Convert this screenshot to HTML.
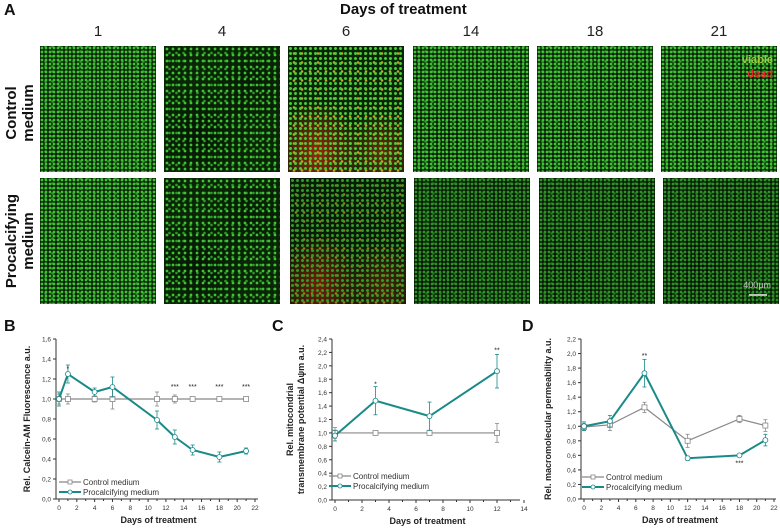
<!DOCTYPE html>
<html><head><meta charset="utf-8"><style>
body{margin:0;background:#fff;width:780px;height:528px;overflow:hidden;position:relative;font-family:"Liberation Sans",sans-serif}
.lbl{position:absolute;font-weight:bold;color:#111}
.cell{position:absolute;width:116px;height:126px;background-color:#0a2606;
background-image:radial-gradient(circle,#3fc236 0 1.1px,transparent 1.7px),radial-gradient(circle,#2a9a25 0 1px,transparent 1.6px),radial-gradient(ellipse at 30% 70%,rgba(0,0,0,.4),transparent 40%),radial-gradient(ellipse at 75% 30%,rgba(0,0,0,.3),transparent 35%);
background-size:4px 4px,7px 5px,100% 100%,100% 100%;background-position:0 0,2px 3px,0 0,0 0}
.sparse{background-size:6px 6px,7px 8px,100% 100%,100% 100%}
.dim{filter:brightness(.75)}
.red{background-image:radial-gradient(circle,#46d13a 0 1.2px,transparent 1.8px),radial-gradient(circle,#c8a020 0 1px,transparent 1.6px),radial-gradient(ellipse at 25% 85%,rgba(190,40,10,.8),transparent 35%),radial-gradient(ellipse at 80% 85%,rgba(160,50,10,.6),transparent 30%);background-size:5px 5px,8px 9px,100% 100%,100% 100%}
.daytxt{position:absolute;font-size:15px;color:#222;width:116px;text-align:center;top:23px}
</style></head><body>
<div class="lbl" style="left:4px;top:2px;font-size:16px">A</div>
<div class="lbl" style="left:340px;top:1px;font-size:15px">Days of treatment</div>
<div class="lbl" style="left:-40px;top:96px;width:120px;text-align:center;font-size:15px;transform:rotate(-90deg);line-height:17px">Control<br>medium</div>
<div class="lbl" style="left:-40px;top:224px;width:120px;text-align:center;font-size:15px;transform:rotate(-90deg);line-height:17px">Procalcifying<br>medium</div>
<div class="daytxt" style="left:40px">1</div>
<div class="daytxt" style="left:164px">4</div>
<div class="daytxt" style="left:288px">6</div>
<div class="daytxt" style="left:413px">14</div>
<div class="daytxt" style="left:537px">18</div>
<div class="daytxt" style="left:661px">21</div>
<div class="cell" style="left:40px;top:46px"></div>
<div class="cell sparse" style="left:164px;top:46px"></div>
<div class="cell red" style="left:288px;top:46px"></div>
<div class="cell" style="left:413px;top:46px"></div>
<div class="cell" style="left:537px;top:46px"></div>
<div class="cell" style="left:661px;top:46px"><span style="position:absolute;right:4px;top:8px;color:#9c4;font-size:11px;font-weight:bold">viable</span><span style="position:absolute;right:4px;top:22px;color:#e22;font-size:11px;font-weight:bold">dead</span></div>
<div class="cell" style="left:40px;top:178px"></div>
<div class="cell sparse" style="left:164px;top:178px"></div>
<div class="cell red sparse dim" style="left:290px;top:178px"></div>
<div class="cell dim" style="left:414px;top:178px"></div>
<div class="cell dim" style="left:539px;top:178px"></div>
<div class="cell dim" style="left:663px;top:178px"><span style="position:absolute;right:8px;bottom:14px;color:#fff;font-size:9px">400µm</span><span style="position:absolute;right:12px;bottom:8px;width:18px;height:2px;background:#fff"></span></div>
<svg id="svg" width="780" height="528" style="position:absolute;left:0;top:0"></svg>
<script>
// Chart B
const bDaysCtrl=[0,1,4,6,11,13,15,18,21];
const bCtrl=[1,1,1,1,1,1,1,1,1];
const bCtrlErr=[0.05,0.05,0.03,0.1,0.07,0.04,0.02,0.02,0.02];
const bDaysPro=[0,1,4,6,11,13,15,18,21];
const bPro=[1,1.25,1.07,1.12,0.79,0.62,0.49,0.42,0.48];
const bProErr=[0.07,0.09,0.04,0.1,0.09,0.07,0.05,0.05,0.03];
const bXTicks=[0,2,4,6,8,10,12,14,16,18,20,22];
const bYTicks=["0,0","0,2","0,4","0,6","0,8","1,0","1,2","1,4","1,6"];
const bStars=[[1,1.31,"*"],[13,1.13,"***"],[15,1.13,"***"],[18,1.13,"***"],[21,1.13,"***"]];
// Chart C
const cDays=[0,3,7,12];
const cCtrl=[1,1,1,1];
const cCtrlErr=[0.08,0.01,0.01,0.14];
const cPro=[0.96,1.48,1.25,1.92];
const cProErr=[0.08,0.21,0.21,0.25];
const cXTicks=[0,2,4,6,8,10,12,14];
const cYTicks=["0,0","0,2","0,4","0,6","0,8","1,0","1,2","1,4","1,6","1,8","2,0","2,2","2,4"];
const cStars=[[3,1.74,"*"],[12,2.24,"**"]];
// Chart D
const dDays=[0,3,7,12,18,21];
const dCtrl=[0.99,1.02,1.26,0.8,1.1,1.01];
const dCtrlErr=[0.05,0.08,0.07,0.09,0.05,0.08];
const dPro=[1,1.07,1.73,0.56,0.6,0.81];
const dProErr=[0.06,0.08,0.19,0.03,0.02,0.08];
const dXTicks=[0,2,4,6,8,10,12,14,16,18,20,22];
const dYTicks=["0,0","0,2","0,4","0,6","0,8","1,0","1,2","1,4","1,6","1,8","2,0","2,2"];
const dStars=[[7,1.98,"**"],[18,0.5,"***"]];

const NS="http://www.w3.org/2000/svg";
const svg=document.getElementById('svg');
function mk(tag,attrs,parent){const e=document.createElementNS(NS,tag);for(const k in attrs)e.setAttribute(k,attrs[k]);(parent||svg).appendChild(e);return e;}
const GREY="#888",TEAL="#1a8a88";
function chart(o){
  const g=mk('g',{});
  
  
  const sx=d=>o.x0+(d-o.xmin)*(o.x1-o.x0)/(o.xmax-o.xmin);
  const sy=v=>o.y0-(v)*(o.y0-o.y1)/o.ymax;
  const ax=mk('path',{d:`M${o.x0-3} ${o.y1}V${o.y0}H${o.xEnd}`,stroke:"#333",fill:"none","stroke-width":1},g);
  
  o.xt.forEach((t,i)=>{const x=sx(t);mk('line',{x1:x,x2:x,y1:o.y0,y2:o.y0+3,stroke:"#333"},g);
    const tx=mk('text',{x:x,y:o.y0+11,"font-size":6.5,"text-anchor":"middle",fill:"#333"},g);tx.textContent=t;
    
    if(i<o.xt.length-1)mk('line',{x1:sx(t+1),x2:sx(t+1),y1:o.y0,y2:o.y0+2,stroke:"#333"},g);});
  const step=o.ymax/(o.yt.length-1);
  o.yt.forEach((t,i)=>{const y=sy(i*step);mk('line',{x1:o.x0-6,x2:o.x0-3,y1:y,y2:y,stroke:"#333"},g);
    const tx=mk('text',{x:o.x0-8,y:y+2.5,"font-size":6.5,"text-anchor":"end",fill:"#333"},g);tx.textContent=t;
    });
  function series(days,vals,err,col,w,nm){
    const s=mk('g',{},g);
    days.forEach((d,i)=>{mk('line',{x1:sx(d),x2:sx(d),y1:sy(vals[i]-err[i]),y2:sy(vals[i]+err[i]),stroke:col,"stroke-width":0.8},s);
      mk('line',{x1:sx(d)-2,x2:sx(d)+2,y1:sy(vals[i]+err[i]),y2:sy(vals[i]+err[i]),stroke:col,"stroke-width":0.8},s);
      mk('line',{x1:sx(d)-2,x2:sx(d)+2,y1:sy(vals[i]-err[i]),y2:sy(vals[i]-err[i]),stroke:col,"stroke-width":0.8},s);});
    mk('polyline',{points:days.map((d,i)=>sx(d)+","+sy(vals[i])).join(" "),fill:"none",stroke:col,"stroke-width":w},s);
    days.forEach((d,i)=>{const m=mk('rect',{x:sx(d)-2.5,y:sy(vals[i])-2.5,width:5,height:5,fill:"#fff",stroke:col,"stroke-width":0.8,rx:nm.includes('pro')?2.5:0},s);
      });
  }
  series(o.cd,o.c,o.ce,GREY,1.2,'series-control');
  series(o.pd,o.p,o.pe,TEAL,2,'series-procalcifying');
  o.stars.forEach(s=>{const t=mk('text',{x:sx(s[0]),y:sy(s[1])+3,"font-size":7,"text-anchor":"middle",fill:"#222"},g);t.textContent=s[2];
    });
  const lg=mk('g',{},g);
  [[GREY,1.2,"Control medium",0,0],[TEAL,2,"Procalcifying medium",1,2]].forEach(l=>{const y=o.ly+l[3]*10;
    mk('line',{x1:o.lx,x2:o.lx+22,y1:y,y2:y,stroke:l[0],"stroke-width":l[1]},lg);
    mk('rect',{x:o.lx+9,y:y-2,width:4,height:4,rx:l[4],fill:"#fff",stroke:l[0],"stroke-width":0.8},lg);
    const t=mk('text',{x:o.lx+24,y:y+3,"font-size":8,fill:"#333"},lg);t.textContent=l[2];
    });
  const xt=mk('text',{x:(o.x0+o.xEnd)/2,y:o.y0+24,"font-size":9,"font-weight":"bold","text-anchor":"middle",fill:"#222"},g);xt.textContent="Days of treatment";
  
  o.ytitle.forEach((s,i)=>{const t=mk('text',{x:0,y:0,"font-size":9,"font-weight":"bold","text-anchor":"middle",fill:"#222",transform:`translate(${o.ytx+i*11},${(o.y0+o.y1)/2}) rotate(-90)`},g);t.textContent=s;
    });
  const pl=mk('text',{x:o.px,y:331,"font-size":16,"font-weight":"bold",fill:"#111"},g);pl.textContent=o.panel;
  
}
chart({name:'chart-b-calcein',panel:'B',px:4,x0:59,x1:255,xmin:0,xmax:22,xEnd:258,y0:499,y1:339,ymax:1.6,xt:bXTicks,yt:bYTicks,
  cd:bDaysCtrl,c:bCtrl,ce:bCtrlErr,pd:bDaysPro,p:bPro,pe:bProErr,stars:bStars,lx:59,ly:482,ytx:30,ytitle:["Rel. Calcein-AM Fluorescence a.u."]});
chart({name:'chart-c-mitochondrial',panel:'C',px:272,x0:335,x1:497,xmin:0,xmax:12,xEnd:520,y0:500,y1:339,ymax:2.4,xt:cXTicks,yt:cYTicks,
  cd:cDays,c:cCtrl,ce:cCtrlErr,pd:cDays,p:cPro,pe:cProErr,stars:cStars,lx:329,ly:476,ytx:293,ytitle:["Rel. mitocondrial","transmembrane potential Δψm a.u."]});
chart({name:'chart-d-permeability',panel:'D',px:522,x0:584,x1:774,xmin:0,xmax:22,xEnd:776,y0:499,y1:339,ymax:2.2,xt:dXTicks,yt:dYTicks,
  cd:dDays,c:dCtrl,ce:dCtrlErr,pd:dDays,p:dPro,pe:dProErr,stars:dStars,lx:582,ly:477,ytx:551,ytitle:["Rel. macromolecular permeability a.u."]});
</script>
</body></html>
